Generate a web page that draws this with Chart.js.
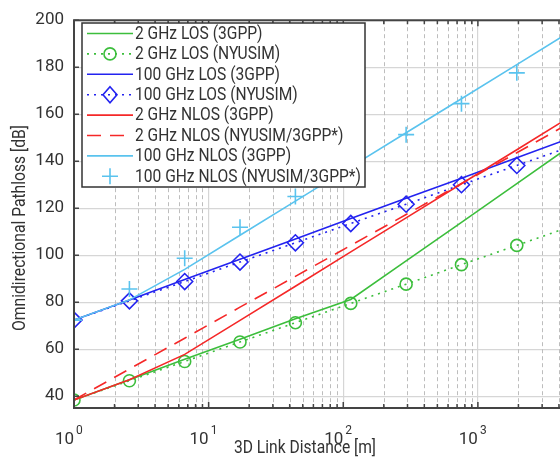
<!DOCTYPE html>
<html><head><meta charset="utf-8">
<script src="https://cdn.jsdelivr.net/npm/chart.js@4.4.1/dist/chart.umd.min.js"></script>
<style>
html,body{margin:0;padding:0;background:#fff;overflow:hidden;width:560px;height:459px}
#wrap{position:absolute;left:0;top:0;width:600px;height:459px}
canvas{display:block}
</style></head><body><div id="wrap"><canvas id="c" width="600" height="459"></canvas></div>
<script>
// ---- data ----
const distances = [1, 2.58, 6.64, 17.1, 44.1, 113.7, 293, 755, 1946, 5000];
const xTickValues = [1, 10, 100, 1000];
const xTickExponents = ['0', '1', '2', '3'];
const yTickValues = [40, 60, 80, 100, 120, 140, 160, 180, 200];

const los2Gpp   = [38.4, 47.0, 55.7, 64.3, 73.0, 81.2, 97.6, 114.0, 130.5, 146.9];
const los2Nyu   = [38.4, 46.6, 54.8, 63.1, 71.3, 79.5, 87.7, 96.0, 104.2, 112.4];
const los100Gpp = [72.4, 81.0, 89.7, 98.3, 106.9, 115.6, 124.2, 132.8, 141.5, 150.1];
const los100Nyu = [72.4, 80.6, 88.8, 97.1, 105.3, 113.5, 121.7, 130.0, 138.2, 146.4];
const nlos2Gpp  = [38.4, 47.0, 57.8, 72.3, 86.8, 101.4, 115.9, 130.4, 144.9, 159.4];
const nlos2Nyu  = [38.4, 51.6, 64.7, 77.9, 91.0, 104.2, 117.3, 130.5, 143.6, 156.8];
const nlos100Gpp= [72.4, 81.0, 94.0, 108.5, 123.0, 137.6, 152.1, 166.6, 181.1, 195.6];
const nlos100Nyu= [72.4, 85.6, 98.7, 111.9, 125.0, 138.2, 151.3, 164.5, 177.6, 190.8];

const seriesLabels = [
  '2 GHz LOS (3GPP)', '2 GHz LOS (NYUSIM)', '100 GHz LOS (3GPP)', '100 GHz LOS (NYUSIM)',
  '2 GHz NLOS (3GPP)', '2 GHz NLOS (NYUSIM/3GPP*)', '100 GHz NLOS (3GPP)', '100 GHz NLOS (NYUSIM/3GPP*)'
];
const seriesValues = [los2Gpp, los2Nyu, los100Gpp, los100Nyu, nlos2Gpp, nlos2Nyu, nlos100Gpp, nlos100Nyu];
const xTitle = '3D Link Distance [m]';
const yTitle = 'Omnidirectional Pathloss [dB]';

const GREEN = 'rgb(60,190,60)', BLUE = 'rgb(35,35,240)', RED = 'rgb(245,40,40)', LBLUE = 'rgb(90,195,238)';
const styles = [
  {c: GREEN, dash: [], line: true, marker: null},
  {c: GREEN, dash: [2, 5], line: true, marker: 'circle'},
  {c: BLUE, dash: [], line: true, marker: null},
  {c: BLUE, dash: [2, 5], line: true, marker: 'diamond'},
  {c: RED, dash: [], line: true, marker: null},
  {c: RED, dash: [14, 9], line: true, marker: null},
  {c: LBLUE, dash: [], line: true, marker: null},
  {c: LBLUE, dash: [], line: false, marker: 'cross'}
];
const csStyle = {circle: 'circle', diamond: 'rectRot', cross: 'cross'};

const TFONT = 'Roboto, "Liberation Sans", sans-serif';
const SANS = '"Liberation Sans", Arial, sans-serif';
const TXT = '#333';

const datasets = seriesValues.map((vals, i) => {
  const s = styles[i];
  return {
    label: seriesLabels[i],
    data: distances.map((d, k) => ({x: d, y: vals[k]})),
    borderColor: s.c,
    backgroundColor: 'rgba(0,0,0,0)',
    borderWidth: 1.6,
    borderDash: s.dash,
    showLine: s.line,
    pointStyle: s.marker ? csStyle[s.marker] : 'circle',
    pointRadius: s.marker ? (s.marker === 'circle' ? 6 : 8) : 0,
    pointBorderWidth: 1.6,
    pointBorderColor: s.c,
    pointBackgroundColor: 'rgba(0,0,0,0)',
    tension: 0,
    order: 20 - i
  };
});

// draw condensed text: fixed font size, horizontally scaled to a target width
function condensedText(ctx, text, x, y, size, targetW, align) {
  ctx.save();
  ctx.font = size + 'px ' + TFONT;
  const w = ctx.measureText(text).width;
  const sx = Math.min(1, targetW / w);
  ctx.translate(x, y); ctx.scale(sx, 1);
  ctx.textAlign = align; ctx.textBaseline = 'middle';
  ctx.fillText(text, 0, 0);
  ctx.restore();
  return sx;
}

function drawMarker(ctx, type, x, y, color) {
  ctx.save();
  ctx.strokeStyle = color; ctx.lineWidth = 1.6; ctx.setLineDash([]);
  ctx.beginPath();
  if (type === 'circle') { ctx.arc(x, y, 6, 0, Math.PI * 2); }
  else if (type === 'diamond') { ctx.moveTo(x, y - 8); ctx.lineTo(x + 7, y); ctx.lineTo(x, y + 8); ctx.lineTo(x - 7, y); ctx.closePath(); }
  else if (type === 'cross') { ctx.moveTo(x - 8, y); ctx.lineTo(x + 8, y); ctx.moveTo(x, y - 8); ctx.lineTo(x, y + 8); }
  ctx.stroke();
  ctx.restore();
}

const decorPlugin = {
  id: 'decor',
  beforeDatasetsDraw(chart) {
    const ctx = chart.ctx, xs = chart.scales.x, ca = chart.chartArea;
    ctx.save();
    ctx.strokeStyle = '#bdbdbd'; ctx.lineWidth = 1; ctx.setLineDash([4, 3]);
    for (const d of xTickValues) {
      for (let m = 2; m <= 9; m++) {
        const v = d * m; if (v > xs.max) continue;
        const px = Math.round(xs.getPixelForValue(v)) + 0.5;
        ctx.beginPath(); ctx.moveTo(px, ca.top); ctx.lineTo(px, ca.bottom); ctx.stroke();
      }
    }
    ctx.restore();
  },
  afterDatasetsDraw(chart) {
    const ctx = chart.ctx, xs = chart.scales.x, ys = chart.scales.y, ca = chart.chartArea;
    ctx.save();
    // axes box
    ctx.strokeStyle = '#444'; ctx.lineWidth = 2; ctx.setLineDash([]);
    ctx.beginPath();
    ctx.moveTo(ca.right, ca.top); ctx.lineTo(ca.left, ca.top); ctx.lineTo(ca.left, ca.bottom); ctx.lineTo(ca.right, ca.bottom);
    ctx.stroke();
    // ticks
    ctx.lineWidth = 1.5;
    ctx.beginPath();
    for (const d of xTickValues) {
      for (let m = 1; m <= 9; m++) {
        const v = d * m; if (v > xs.max) continue;
        const px = xs.getPixelForValue(v); const len = m === 1 ? 6 : 4;
        ctx.moveTo(px, ca.bottom); ctx.lineTo(px, ca.bottom - len);
        ctx.moveTo(px, ca.top); ctx.lineTo(px, ca.top + len);
      }
    }
    for (const v of yTickValues) {
      const py = ys.getPixelForValue(v);
      ctx.moveTo(ca.left, py); ctx.lineTo(ca.left + 5, py);
    }
    ctx.stroke();
    // x tick labels 10^k
    ctx.fillStyle = TXT; ctx.textBaseline = 'alphabetic';
    xTickValues.forEach((v, i) => {
      const px = xs.getPixelForValue(v);
      ctx.font = '17px ' + TFONT; ctx.textAlign = 'right';
      ctx.fillText('10', px, 444);
      ctx.font = '12px ' + TFONT; ctx.textAlign = 'left';
      ctx.fillText(xTickExponents[i], px + 2, 434);
    });
    // axis titles
    condensedText(ctx, xTitle, 305, 449, 17.5, 142, 'center');
    ctx.save(); ctx.translate(21, 228); ctx.rotate(-Math.PI / 2);
    condensedText(ctx, yTitle, 0, 0, 17.5, 206, 'center');
    ctx.restore();
    // legend
    const lx = 82, ly = 23, lw = 283, lh = 164;
    ctx.fillStyle = '#fff'; ctx.fillRect(lx, ly, lw, lh);
    ctx.strokeStyle = '#333'; ctx.lineWidth = 1.5; ctx.strokeRect(lx, ly, lw, lh);
    ctx.font = '17.5px ' + TFONT;
    const legScale = Math.min(1, 226 / ctx.measureText(seriesLabels[7]).width);
    seriesLabels.forEach((lab, i) => {
      const s = styles[i]; const y = 33.5 + i * 20.4;
      if (s.line) {
        ctx.save(); ctx.strokeStyle = s.c; ctx.lineWidth = 1.6; ctx.setLineDash(s.dash);
        ctx.beginPath(); ctx.moveTo(87, y); ctx.lineTo(133, y); ctx.stroke(); ctx.restore();
      }
      if (s.marker) drawMarker(ctx, s.marker, 110, y, s.c);
      ctx.save();
      ctx.fillStyle = TXT; ctx.font = '17.5px ' + TFONT; ctx.textAlign = 'left'; ctx.textBaseline = 'middle';
      ctx.translate(135, y + 1); ctx.scale(legScale, 1);
      ctx.fillText(lab, 0, 0);
      ctx.restore();
    });
    ctx.restore();
  }
};

new Chart(document.getElementById('c'), {
  type: 'line',
  data: {datasets},
  options: {
    responsive: false, animation: false, devicePixelRatio: 1,
    layout: {padding: {top: 16, right: 28, left: 0, bottom: 0}},
    plugins: {legend: {display: false}, tooltip: {enabled: false}},
    scales: {
      x: {
        type: 'logarithmic', min: 1, max: 5000,
        afterBuildTicks: s => { s.ticks = xTickValues.map(v => ({value: v})); },
        afterFit: s => { s.height = 51; },
        ticks: {display: false},
        grid: {color: '#d6d6d6', lineWidth: 1.2, drawTicks: false},
        border: {display: false}
      },
      y: {
        type: 'linear', min: 35, max: 200,
        afterBuildTicks: s => { s.ticks = yTickValues.map(v => ({value: v})); },
        afterFit: s => { s.width = 74; },
        ticks: {font: {family: TFONT, size: 17}, color: TXT, padding: 10},
        grid: {color: '#d6d6d6', lineWidth: 1.2, drawTicks: false},
        border: {display: false}
      }
    }
  },
  plugins: [decorPlugin]
});
</script></body></html>
